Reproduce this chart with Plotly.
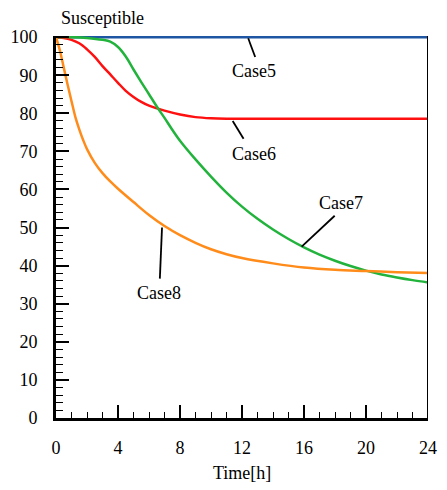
import plotly.graph_objects as go

# Time points (hours) and susceptible fractions (%)
t_case5 = [0, 24]
case5 = [100, 100]

t_case6 = [0, 0.5, 1, 1.5, 2, 2.5, 3, 3.5, 4, 4.5, 5, 5.5, 6, 7, 8, 9, 10, 11, 12, 16, 20, 24]
case6 = [100, 99.8, 99.3, 98.4, 96.8, 94.8, 92.4, 90.2, 88.0, 85.9, 84.3, 83.0, 82.0, 80.7, 79.7,
         79.0, 78.7, 78.6, 78.6, 78.6, 78.6, 78.6]

t_case7 = [0, 1, 2, 3, 3.5, 4, 4.5, 5, 5.5, 6, 6.5, 7, 7.5, 8, 9, 10, 11, 12, 13, 14, 15, 16, 17,
           18, 19, 20, 21, 22, 23, 24]
case7 = [100, 100, 99.8, 99.3, 98.8, 97.4, 94.9, 91.5, 88.2, 85.0, 81.8, 78.8, 75.7, 72.8, 67.9,
         63.4, 59.2, 55.5, 52.3, 49.5, 47.0, 44.8, 42.9, 41.3, 39.9, 38.7, 37.7, 36.9, 36.2, 35.6]

t_case8 = [0, 0.25, 0.5, 0.75, 1, 1.25, 1.5, 1.75, 2, 2.5, 3, 3.5, 4, 5, 6, 7, 8, 9, 10, 11, 12,
           14, 16, 18, 20, 22, 24]
case8 = [100, 96.5, 92.0, 87.5, 83.2, 79.0, 75.8, 73.0, 70.6, 67.0, 64.3, 62.1, 60.2, 56.7, 53.3,
         50.4, 48.0, 46.0, 44.3, 43.0, 42.0, 40.6, 39.5, 38.9, 38.6, 38.3, 38.1]

x_ticks = [0, 4, 8, 12, 16, 20, 24]
y_ticks = [0, 10, 20, 30, 40, 50, 60, 70, 80, 90, 100]

# label: (text, line start x,y on curve, line end x,y, text x,y)
labels = [
    ("Case5", 12.4, 99.7, 12.85, 94.8, 12.8, 91.0),
    ("Case6", 11.4, 78.0, 12.1, 73.3, 12.8, 69.4),
    ("Case7", 15.85, 45.0, 17.98, 53.1, 18.4, 56.5),
    ("Case8", 6.84, 50.0, 6.7, 36.6, 6.65, 32.7),
]

FONT = "'Liberation Serif', 'Times New Roman', serif"
fig = go.Figure()
series = [
    (t_case5, case5, "#1f56a3"),
    (t_case6, case6, "#ff1010"),
    (t_case7, case7, "#22b33c"),
    (t_case8, case8, "#ff8c1a"),
]
for tx, ty, col in series:
    fig.add_trace(go.Scatter(x=tx, y=ty, mode="lines",
                             line=dict(color=col, width=2.5, shape="spline", smoothing=1.0),
                             showlegend=False, hoverinfo="skip"))

for txt, x0, y0, x1, y1, tx, ty in labels:
    fig.add_shape(type="line", x0=x0, y0=y0, x1=x1, y1=y1, xref="x", yref="y",
                  line=dict(color="black", width=1.8))
    fig.add_annotation(x=tx, y=ty, xref="x", yref="y", text=txt, showarrow=False,
                       font=dict(family=FONT, size=18, color="black"))

# right border
fig.add_shape(type="line", x0=24, x1=24, y0=0, y1=1, xref="x", yref="paper",
              line=dict(color="black", width=2))

fig.add_annotation(x=0, y=1, xref="paper", yref="paper", xanchor="left", yanchor="middle",
                   xshift=3, yshift=18, text="Susceptible", showarrow=False,
                   font=dict(family=FONT, size=18, color="black"))
fig.add_annotation(x=12, y=0, xref="x", yref="paper", xanchor="center", yanchor="middle",
                   yshift=-55, text="Time[h]", showarrow=False,
                   font=dict(family=FONT, size=18, color="black"))

fig.update_layout(
    width=447, height=490,
    margin=dict(l=54, r=10, t=36, b=72),
    paper_bgcolor="white", plot_bgcolor="white",
    font=dict(family=FONT, size=18, color="black"),
    xaxis=dict(range=[0, 24], tickvals=x_ticks, ticktext=[str(v) for v in x_ticks],
               ticks="inside", ticklen=13, tickwidth=1.5, tickcolor="black",
               showline=True, linecolor="black", linewidth=3, showgrid=False, zeroline=False,
               minor=dict(dtick=1, ticks="inside", ticklen=6, tickwidth=1.2, tickcolor="black", showgrid=False),
               ticklabelstandoff=11, tickfont=dict(family=FONT, size=18, color="black")),
    yaxis=dict(range=[0, 100.3], tickvals=y_ticks, ticktext=[str(v) for v in y_ticks],
               ticks="inside", ticklen=13, tickwidth=1.5, tickcolor="black",
               showline=True, linecolor="black", linewidth=3, showgrid=False, zeroline=False,
               minor=dict(dtick=2, ticks="inside", ticklen=7, tickwidth=1.2, tickcolor="black", showgrid=False),
               ticklabelstandoff=12, tickfont=dict(family=FONT, size=18, color="black")),
)

fig.write_html("out.html")
